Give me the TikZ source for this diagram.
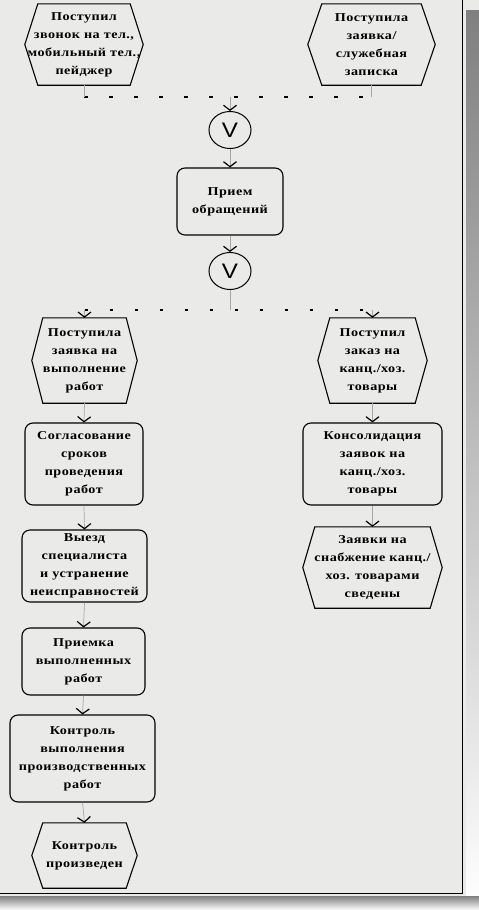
\documentclass[tikz,border=0pt]{standalone}
\usepackage{fontspec}
\setmainfont{Liberation Serif}[FakeStretch=1.18, LetterSpace=4]
\newfontfamily\xorfont{Liberation Sans}[FakeStretch=1.15]
\usetikzlibrary{arrows.meta,shapes.geometric}
\definecolor{paper}{RGB}{234,234,232}
\definecolor{shade}{RGB}{168,168,168}
\newcommand\hexdraw[2]{\draw[line width=1.1pt] (#1.west) -- ([xshift=#2pt]#1.north west) -- ([xshift=-#2pt]#1.north east) -- (#1.east) -- ([xshift=-#2pt]#1.south east) -- ([xshift=#2pt]#1.south west) -- cycle;}
\begin{document}
\begin{tikzpicture}[x=1pt,y=-1pt,
  txt/.style={font=\fontsize{12}{18}\selectfont\bfseries, align=center, inner sep=0pt},
  fn/.style={txt, draw, line width=1.1pt, rounded corners=8pt},
  ev/.style={txt},
  xorg/.style={draw, ellipse, line width=1pt, minimum width=42pt, minimum height=37pt, inner sep=0pt, font=\xorfont\fontsize{21}{21}\selectfont},
  conn/.style={draw=black!35, line width=0.7pt, -{Straight Barb[length=5pt,width=13pt,line width=1.2pt,color=black]}},
  plain/.style={draw=black!35, line width=0.7pt},
  split/.style={line width=1.3pt, dash pattern=on 3.5pt off 21.5pt}]
\useasboundingbox (0,0) rectangle (479,910);
\fill[paper] (0,0) rectangle (479,910);
\fill[shade] (466,10) rectangle (479,910);
\fill[shade] (0,896) rectangle (479,910);
\draw[line width=1pt] (462,0) -- (462,893) -- (0,893);

% nodes
\node[ev, minimum width=118pt, minimum height=81pt] (e1) at (84,44.5) {Поступил\\звонок на тел.,\\мобильный тел.,\\пейджер};
\hexdraw{e1}{13}
\node[ev, minimum width=127pt, minimum height=81pt] (e2) at (371.5,44.5) {Поступила\\заявка/\\служебная\\записка};
\hexdraw{e2}{14}
\coordinate (s1) at (230,97);
\node[xorg] (x1) at (230,130) {V};
\node[fn, minimum width=106pt, minimum height=67pt] (f1) at (230,201.5) {Прием\\обращений};
\node[xorg] (x2) at (230,271) {V};
\coordinate (s2) at (230,310);
\node[ev, minimum width=105pt, minimum height=85pt] (e3) at (84.5,360.5) {Поступила\\заявка на\\выполнение\\работ};
\hexdraw{e3}{11}
\node[ev, minimum width=109pt, minimum height=85pt] (e4) at (372.5,360.5) {Поступил\\заказ на\\канц./хоз.\\товары};
\hexdraw{e4}{12}
\node[fn, minimum width=118pt, minimum height=82pt] (f2) at (84,464) {Согласование\\сроков\\проведения\\работ};
\node[fn, minimum width=139pt, minimum height=82pt] (f3) at (372.5,464) {Консолидация\\заявок на\\канц./хоз.\\товары};
\node[fn, minimum width=125pt, minimum height=72pt] (f4) at (84.5,566) {Выезд\\специалиста\\и устранение\\неисправностей};
\node[ev, minimum width=139pt, minimum height=81pt] (e5) at (372.5,567.5) {Заявки на\\снабжение канц./\\хоз. товарами\\сведены};
\hexdraw{e5}{12}
\node[fn, minimum width=123pt, minimum height=67pt] (f5) at (83.5,661.5) {Приемка\\выполненных\\работ};
\node[fn, minimum width=145pt, minimum height=87pt] (f6) at (82.5,758.5) {Контроль\\выполнения\\производственных\\работ};
\node[ev, minimum width=105pt, minimum height=65pt] (e6) at (84.5,855.5) {Контроль\\произведен};
\hexdraw{e6}{11}

% split / join lines
\draw[split] (e1 |- s1) -- (e2 |- s1);
\draw[split] (e3 |- s2) -- (e4 |- s2);

% connectors
\draw[plain] (e1.south) -- (e1 |- s1);
\draw[plain] (e2.south) -- (e2 |- s1);
\draw[conn] (s1) -- (x1.north);
\draw[conn] (x1.south) -- (f1.north);
\draw[conn] (f1.south) -- (x2.north);
\draw[plain] (x2.south) -- (s2);
\draw[conn] (e3 |- s2) -- (e3.north);
\draw[conn] (e4 |- s2) -- (e4.north);
\draw[conn] (e3.south) -- (f2.north);
\draw[conn] (f2.south) -- (f4.north);
\draw[conn] (f4.south) -- (f5.north);
\draw[conn] (f5.south) -- (f6.north);
\draw[conn] (f6.south) -- (e6.north);
\draw[conn] (e4.south) -- (f3.north);
\draw[conn] (f3.south) -- (e5.north);
\end{tikzpicture}
\end{document}
